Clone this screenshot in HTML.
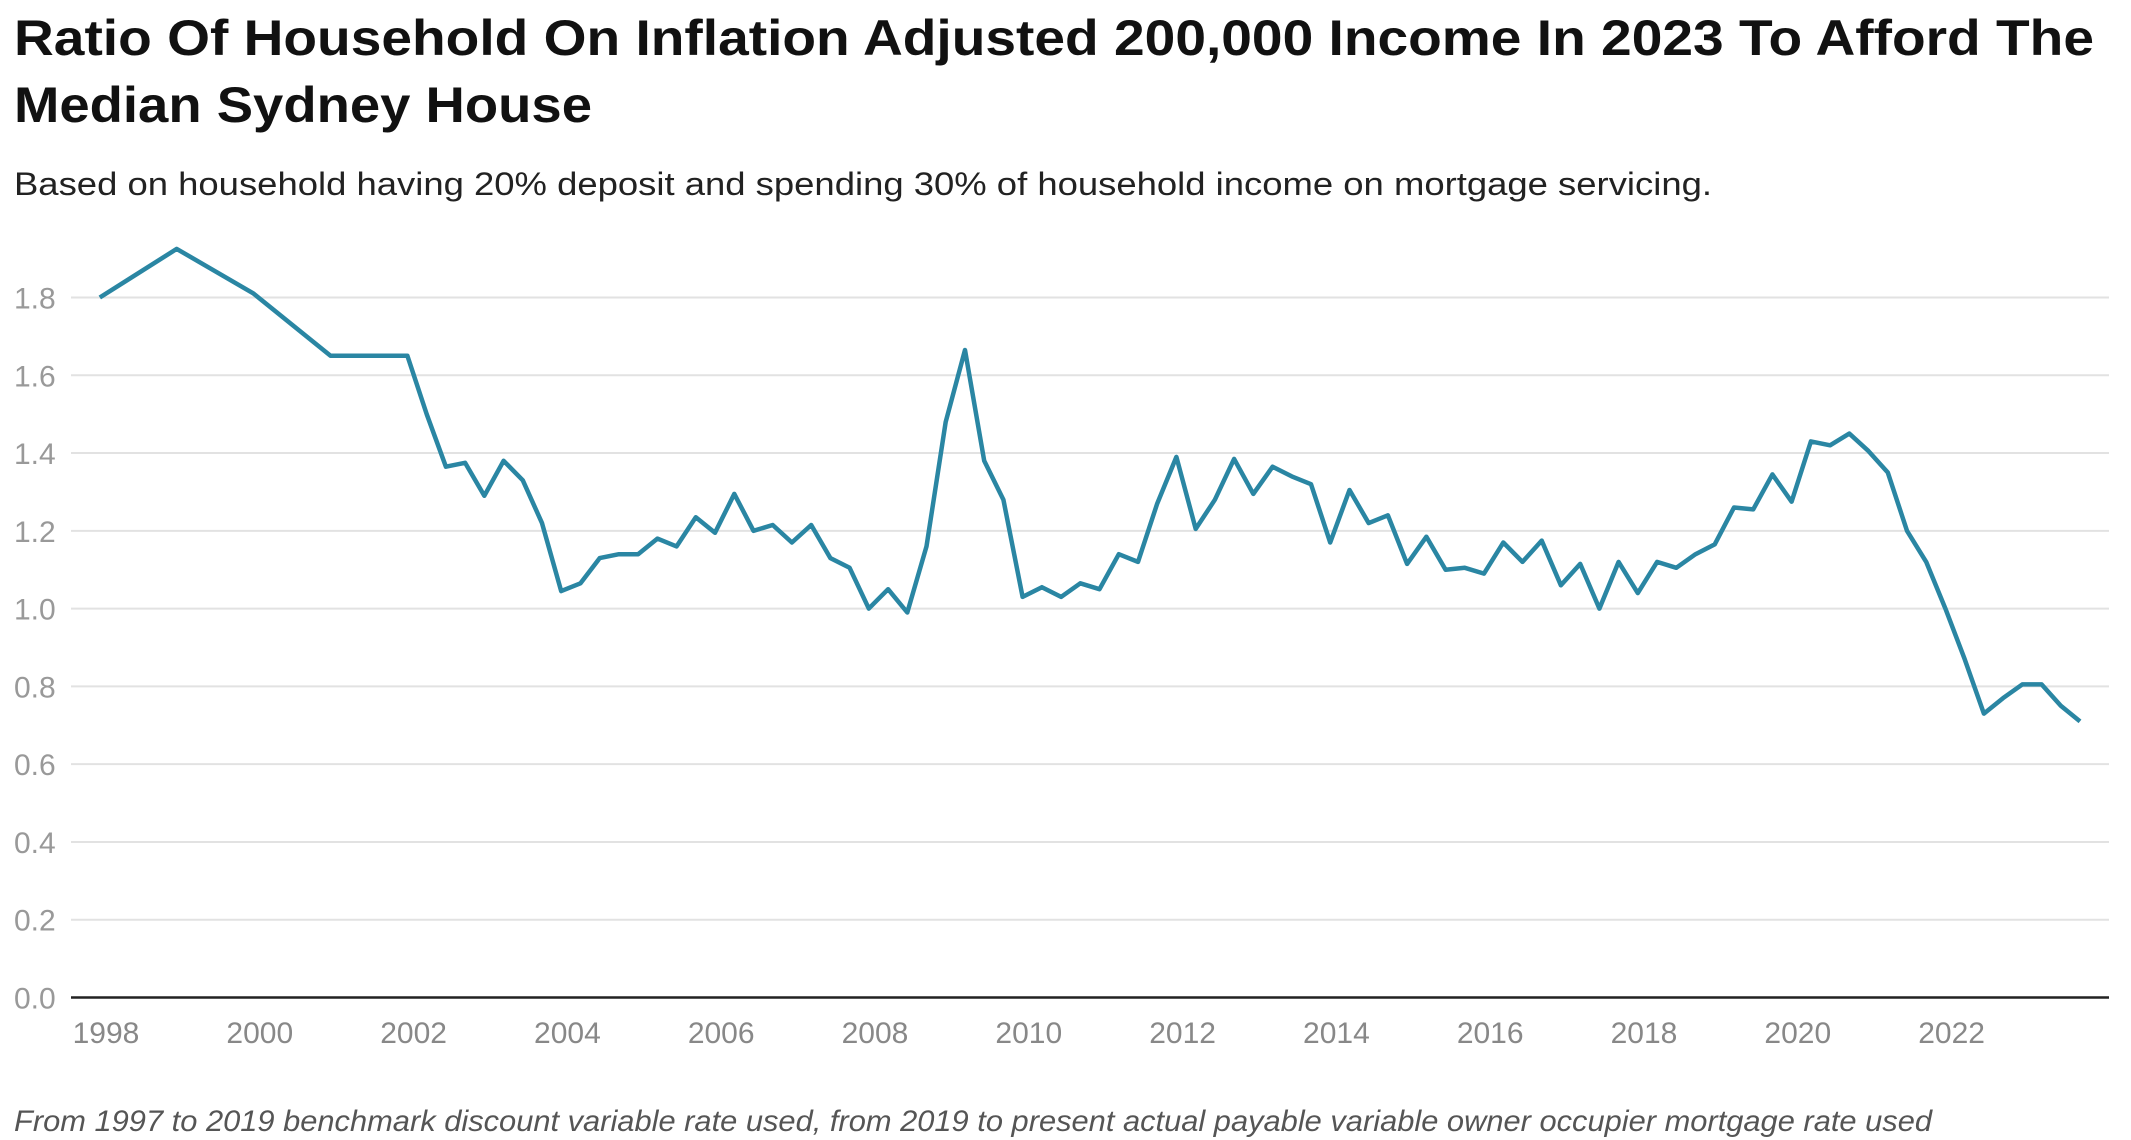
<!DOCTYPE html>
<html><head><meta charset="utf-8"><style>
html,body{margin:0;padding:0;background:#fff}
svg{display:block;font-family:"Liberation Sans",sans-serif}
</style></head><body>
<svg id="chart" width="2131" height="1140" viewBox="0 0 2131 1140" xmlns="http://www.w3.org/2000/svg">
<text x="14" y="55" font-size="50" font-weight="bold" fill="#111" textLength="2080" lengthAdjust="spacingAndGlyphs">Ratio Of Household On Inflation Adjusted 200,000 Income In 2023 To Afford The</text>
<text x="14" y="122" font-size="50" font-weight="bold" fill="#111" textLength="578" lengthAdjust="spacingAndGlyphs">Median Sydney House</text>
<text x="14" y="195" font-size="32" fill="#222" textLength="1698" lengthAdjust="spacingAndGlyphs">Based on household having 20% deposit and spending 30% of household income on mortgage servicing.</text>
<g id="grid"></g><g id="yticks"></g><g id="xticks"></g><g id="series"></g>
<text x="14" y="1131" font-size="30" font-style="italic" fill="#555" textLength="1918" lengthAdjust="spacingAndGlyphs">From 1997 to 2019 benchmark discount variable rate used, from 2019 to present actual payable variable owner occupier mortgage rate used</text>
</svg>
<script>
const dates=[1997.92,1998.92,1999.92,2000.92,2001.92,
2002.17,2002.42,2002.67,2002.92,2003.17,2003.42,2003.67,2003.92,2004.17,2004.42,2004.67,2004.92,
2005.17,2005.42,2005.67,2005.92,2006.17,2006.42,2006.67,2006.92,2007.17,2007.42,2007.67,2007.92,
2008.17,2008.42,2008.67,2008.92,2009.17,2009.42,2009.67,2009.92,2010.17,2010.42,2010.67,2010.92,
2011.17,2011.42,2011.67,2011.92,2012.17,2012.42,2012.67,2012.92,2013.17,2013.42,2013.67,2013.92,
2014.17,2014.42,2014.67,2014.92,2015.17,2015.42,2015.67,2015.92,2016.17,2016.42,2016.67,2016.92,
2017.17,2017.42,2017.67,2017.92,2018.17,2018.42,2018.67,2018.92,2019.17,2019.42,2019.67,2019.92,
2020.17,2020.42,2020.67,2020.92,2021.17,2021.42,2021.67,2021.92,2022.17,2022.42,2022.67,2022.92,
2023.17,2023.42,2023.67];
const ratios=[1.80,1.925,1.81,1.65,1.65,
1.50,1.365,1.375,1.29,1.38,1.33,1.22,1.045,1.065,1.13,1.14,1.14,
1.18,1.16,1.235,1.195,1.295,1.20,1.215,1.17,1.215,1.13,1.105,1.00,
1.05,0.99,1.16,1.48,1.665,1.38,1.28,1.03,1.055,1.03,1.065,1.05,
1.14,1.12,1.27,1.39,1.205,1.28,1.385,1.295,1.365,1.34,1.32,1.17,
1.305,1.22,1.24,1.115,1.185,1.10,1.105,1.09,1.17,1.12,1.175,1.06,
1.115,1.00,1.12,1.04,1.12,1.105,1.14,1.165,1.26,1.255,1.345,1.275,
1.43,1.42,1.45,1.405,1.35,1.20,1.12,1.00,0.87,0.73,0.77,0.805,
0.805,0.75,0.71];
const yTicks=[0,0.2,0.4,0.6,0.8,1.0,1.2,1.4,1.6,1.8];
const xTicks=[1998,2000,2002,2004,2006,2008,2010,2012,2014,2016,2018,2020,2022];
const NS="http://www.w3.org/2000/svg";
const X0=71,X1=2109;
function xs(v){return 106+(v-1998)*76.9;}
function ys(v){return 997.5-v*(700/1.8);}
function mk(t,a,p){const e=document.createElementNS(NS,t);for(const k in a)e.setAttribute(k,a[k]);p.appendChild(e);return e;}
const grid=document.getElementById('grid'),yt=document.getElementById('yticks'),xt=document.getElementById('xticks'),ser=document.getElementById('series');
yTicks.forEach(v=>{
 if(v>0){const l=mk('line',{x1:X0,x2:X1,y1:ys(v),y2:ys(v),stroke:'#e2e2e2','stroke-width':2},grid);
 
 }
 const t=mk('text',{x:14,y:ys(v)+11,'font-size':30,fill:'#999'},yt);t.textContent=v.toFixed(1);
 
 
});
const ax=mk('line',{x1:X0,x2:X1,y1:ys(0),y2:ys(0),stroke:'#222','stroke-width':2.5},grid);


xTicks.forEach(v=>{
 const t=mk('text',{x:xs(v),y:1043,'font-size':30,fill:'#888','text-anchor':'middle'},xt);t.textContent=v;
 
 
});
const d=dates.map((v,i)=>(i?'L':'M')+xs(v).toFixed(1)+','+ys(ratios[i]).toFixed(1)).join('');
const p=mk('path',{d:d,fill:'none',stroke:'#2a86a3','stroke-width':4.5,'stroke-linejoin':'round'},ser);


</script>
</body></html>
